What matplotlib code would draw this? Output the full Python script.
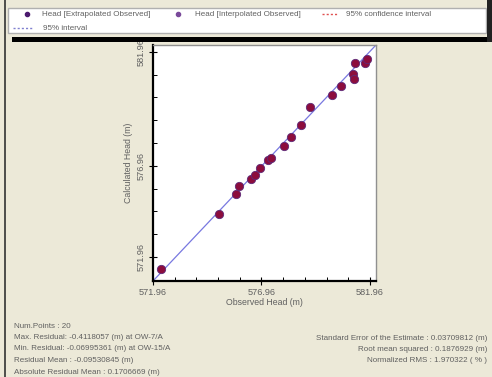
import numpy as np
import matplotlib
matplotlib.use('Agg')
import matplotlib.pyplot as plt
import matplotlib.patches as patches
from matplotlib.lines import Line2D

W, H = 492, 377

# Observed vs calculated heads (m)
observed = [572.31, 575.02, 575.77, 575.94, 576.46, 576.66, 576.89, 577.28,
            577.42, 577.99, 578.33, 578.79, 579.22, 580.19, 580.62, 581.19,
            581.22, 581.25, 581.74, 581.84]
calculated = [571.39, 574.04, 575.03, 575.44, 575.74, 575.95, 576.30, 576.70,
              576.80, 577.39, 577.82, 578.38, 579.26, 579.85, 580.29, 580.89,
              580.63, 581.39, 581.39, 581.61]

# fitted line end points
line_x = [571.96, 582.24]
line_y = [570.79, 582.29]

x_major = [571.96, 576.96, 581.96]
x_labels = ['571.96', '576.96', '581.96']
y_labels = ['571.96', '576.96', '581.96']

stats_left = ['Num.Points : 20',
              'Max. Residual: -0.4118057 (m) at OW-7/A',
              'Min. Residual: -0.06995361 (m) at OW-15/A',
              'Residual Mean : -0.09530845 (m)',
              'Absolute Residual Mean : 0.1706669 (m)']
stats_right = ['Standard Error of the Estimate : 0.03709812 (m)',
               'Root mean squared : 0.1876929 (m)',
               'Normalized RMS : 1.970322 ( % )']

TXT = '#606060'
FONT = 'Liberation Sans'
FS = 5.8


def fx(x):
    return x / W


def fy(y):
    return 1 - y / H


fig = plt.figure(figsize=(W / 100, H / 100), dpi=100)
fig.patch.set_facecolor('#ece9d8')

# legend box and frame bars
fig.add_artist(patches.Rectangle((fx(8), fy(33)), fx(478), 25 / H,
                                 transform=fig.transFigure, facecolor='white',
                                 edgecolor='#b0b0b0', linewidth=1))
fig.add_artist(patches.Rectangle((fx(12), fy(42)), fx(480), 5 / H,
                                 transform=fig.transFigure, facecolor='black',
                                 edgecolor='none'))
fig.add_artist(patches.Rectangle((fx(487), fy(42)), fx(5), 42 / H,
                                 transform=fig.transFigure, facecolor='#222222',
                                 edgecolor='none'))
fig.add_artist(Line2D([fx(4.5), fx(4.5)], [0, 1], transform=fig.transFigure,
                      color='#333333', linewidth=1.2))

# legend entries
fig.add_artist(Line2D([fx(27)], [fy(14)], transform=fig.transFigure,
                      marker='o', markersize=3, color='#4b1a6e', linestyle='none'))
fig.text(fx(42), fy(14), 'Head [Extrapolated Observed]', fontsize=FS,
         color=TXT, family=FONT, va='center')
fig.add_artist(Line2D([fx(178)], [fy(14)], transform=fig.transFigure,
                      marker='o', markersize=3, color='#7a4a9a', linestyle='none'))
fig.text(fx(195), fy(14), 'Head [Interpolated Observed]', fontsize=FS,
         color=TXT, family=FONT, va='center')
fig.add_artist(Line2D([fx(322), fx(338)], [fy(14), fy(14)],
                      transform=fig.transFigure, color='#e05050',
                      linestyle=(0, (1.5, 1.5)), linewidth=1))
fig.text(fx(346), fy(14), '95% confidence interval', fontsize=FS,
         color=TXT, family=FONT, va='center')
fig.add_artist(Line2D([fx(13), fx(33)], [fy(28), fy(28)],
                      transform=fig.transFigure, color='#8080d0',
                      linestyle=(0, (1.5, 1.5)), linewidth=1))
fig.text(fx(43), fy(28), '95% interval', fontsize=FS,
         color=TXT, family=FONT, va='center')

# main axes
ax = fig.add_axes([fx(153), fy(281), 223 / W, 236 / H])
ax.set_facecolor('white')
ax.plot(line_x, line_y, color='#7878e0', linewidth=0.9, zorder=2)
ax.scatter(observed, calculated, s=36, c='#8c0d3d', edgecolors='#5e2a78',
           linewidths=0.6, zorder=3)
ax.set_xlim(line_x)
ax.set_ylim(line_y)

ax.set_xticks(x_major)
ax.set_xticklabels(x_labels)
ax.set_xticks(np.arange(x_major[0], x_major[-1] + 0.01, 1.0), minor=True)
y_ticks = np.linspace(571.96, 581.96, 10)
ax.set_yticks([y_ticks[0], y_ticks[4], y_ticks[9]])
ax.set_yticklabels(y_labels, rotation=90, va='center')
ax.set_yticks(y_ticks, minor=True)
ax.tick_params(which='major', direction='inout', length=6, width=0.8,
               labelsize=FS + 0.8, labelcolor=TXT, pad=2)
ax.tick_params(which='minor', direction='in', length=3, width=0.7)
for lab in ax.get_xticklabels() + ax.get_yticklabels():
    lab.set_family(FONT)

for side in ('left', 'bottom'):
    ax.spines[side].set_linewidth(1.6)
    ax.spines[side].set_color('black')
for side in ('top', 'right'):
    ax.spines[side].set_linewidth(1.0)
    ax.spines[side].set_color('#909090')

ax.set_xlabel('Observed Head (m)', fontsize=FS + 0.5, color=TXT,
              family=FONT, labelpad=1)
ax.set_ylabel('Calculated Head (m)', fontsize=FS + 0.5, color=TXT,
              family=FONT, labelpad=3)

# statistics
for i, s in enumerate(stats_left):
    fig.text(fx(14), fy(326 + i * 11.5), s, fontsize=FS, color=TXT,
             family=FONT, va='center')
for i, s in enumerate(stats_right):
    fig.text(fx(487), fy(338 + i * 11.5), s, fontsize=FS, color=TXT,
             family=FONT, va='center', ha='right')

fig.savefig('out.png', dpi=100, facecolor=fig.get_facecolor())
